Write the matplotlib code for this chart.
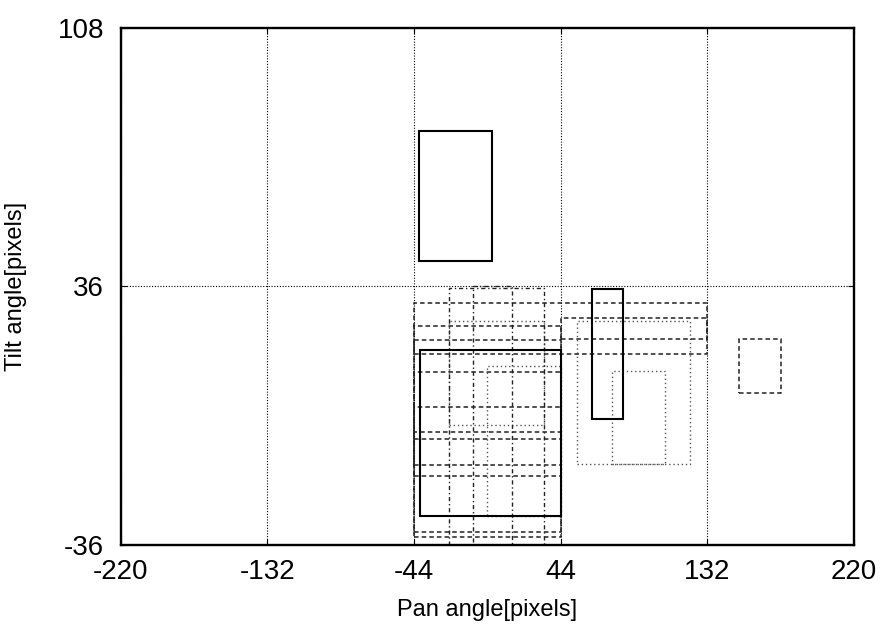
import matplotlib
matplotlib.use("Agg")
import matplotlib.pyplot as plt
from matplotlib.patches import Rectangle

plt.rcParams["font.family"] = ["Liberation Sans", "DejaVu Sans"]
plt.rcParams["axes.unicode_minus"] = False

# Axis ticks
x_ticks = [-220, -132, -44, 44, 132, 220]
y_ticks = [-36, 36, 108]

# Regions as rectangles: left, right, bottom, top
solid_x0 = [-41.0, -40.4, 63.0]
solid_x1 = [3.0, 44.0, 81.5]
solid_y0 = [43.2, -27.8, -0.8]
solid_y1 = [79.4, 18.2, 35.4]

dashed_x0 = [151.0, -44.0, 44.0, -44.0, -44.0, -44.0, -44.0, -44.0]
dashed_x1 = [176.5, 132.0, 132.0, 44.0, 44.0, 44.0, 44.0, 44.0]
dashed_y0 = [6.4, 17.3, 21.3, -33.9, -32.5, -16.7, -13.7, -6.6]
dashed_y1 = [21.3, 31.5, 27.3, 25.0, 21.0, 12.2, 2.3, -4.5]

dashdot_x0 = [-23.0, -8.6]
dashdot_x1 = [34.0, 15.0]
dashdot_y0 = [-36.0, -36.0]
dashdot_y1 = [35.5, 36.0]

dotted_x0 = [53.7, 75.1, 0.0, -23.0]
dotted_x1 = [121.6, 106.8, 44.0, 34.0]
dotted_y0 = [-13.5, -13.5, -28.0, -2.5]
dotted_y1 = [26.4, 12.5, 13.8, 26.3]

fig, ax = plt.subplots(figsize=(8.82, 6.33), dpi=100)
fig.subplots_adjust(left=0.137, right=0.968, top=0.956, bottom=0.139)


def draw_rects(x0, x1, y0, y1, **kw):
    for a, b, c, d in zip(x0, x1, y0, y1):
        ax.add_patch(Rectangle((a, c), b - a, d - c, fill=False, **kw))


draw_rects(dotted_x0, dotted_x1, dotted_y0, dotted_y1,
           edgecolor="#555555", linewidth=1.0, linestyle=(0, (1, 2)))
draw_rects(dashdot_x0, dashdot_x1, dashdot_y0, dashdot_y1,
           edgecolor="#222222", linewidth=1.0, linestyle=(0, (3, 2, 1, 2)))
draw_rects(dashed_x0, dashed_x1, dashed_y0, dashed_y1,
           edgecolor="#222222", linewidth=1.1, linestyle=(0, (3, 2)))
draw_rects(solid_x0, solid_x1, solid_y0, solid_y1,
           edgecolor="black", linewidth=1.5)

ax.set_xlim(x_ticks[0], x_ticks[-1])
ax.set_ylim(y_ticks[0], y_ticks[-1])
ax.set_xticks(x_ticks)
ax.set_yticks(y_ticks)
ax.grid(True, color="black", linestyle=(0, (1, 1.5)), linewidth=0.8)
ax.set_axisbelow(True)

ax.tick_params(labelsize=20, direction="in", length=4, top=True, right=True)
ax.tick_params(axis="x", pad=10)
ax.tick_params(axis="y", pad=12)
ax.set_xlabel("Pan angle[pixels]", fontsize=17, labelpad=10)
ax.set_ylabel("Tilt angle[pixels]", fontsize=17, labelpad=22)

for s in ax.spines.values():
    s.set_linewidth(1.7)

plt.savefig("out.png", dpi=100)
